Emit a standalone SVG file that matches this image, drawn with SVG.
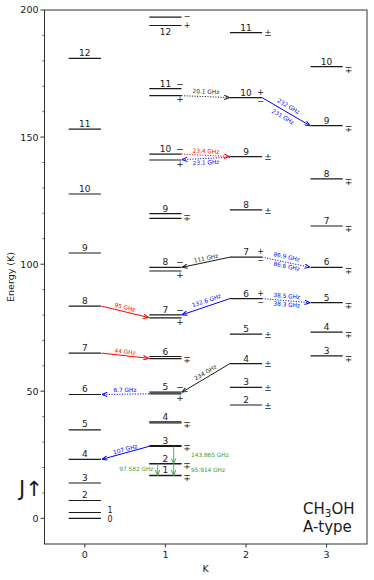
<svg xmlns="http://www.w3.org/2000/svg" width="374" height="580" viewBox="0 0 374 580">
<style>
text{font-family:"DejaVu Sans","Liberation Sans",sans-serif;fill:#1a1a1a}
.lv{stroke:#1a1a1a;stroke-width:1.2;fill:none}
.jl{font-size:9px;text-anchor:middle}
.sg{font-size:9px;text-anchor:middle}
.ss{font-size:8px;text-anchor:middle}
.tk{font-size:9.5px}
.al{font-size:5.8px;text-anchor:middle}
.ar{fill:none;stroke-width:1}
.dot{stroke-dasharray:1.1,1.5}
.bk{stroke:#1a1a1a}.rd{stroke:#ff0000}.bl{stroke:#0000ff}.gr{stroke:#5fae5f}
.tbk{fill:#1a1a1a}.trd{fill:#ff0000}.tbl{fill:#0000ff}.tgr{fill:#3a9a3a}
</style>
<defs>
<marker id="mbk" viewBox="0 0 6 5" refX="5.6" refY="2.5" markerWidth="6" markerHeight="5" markerUnits="userSpaceOnUse" orient="auto"><path d="M0.3,0.3 L5.6,2.5 L0.3,4.7" fill="none" stroke="#1a1a1a" stroke-width="1"/></marker>
<marker id="mrd" viewBox="0 0 6 5" refX="5.6" refY="2.5" markerWidth="6" markerHeight="5" markerUnits="userSpaceOnUse" orient="auto"><path d="M0.3,0.3 L5.6,2.5 L0.3,4.7" fill="none" stroke="#ff0000" stroke-width="1"/></marker>
<marker id="mbl" viewBox="0 0 6 5" refX="5.6" refY="2.5" markerWidth="6" markerHeight="5" markerUnits="userSpaceOnUse" orient="auto"><path d="M0.3,0.3 L5.6,2.5 L0.3,4.7" fill="none" stroke="#0000ff" stroke-width="1"/></marker>
<marker id="mgr" viewBox="0 0 6 5" refX="5.6" refY="2.5" markerWidth="6" markerHeight="5" markerUnits="userSpaceOnUse" orient="auto"><path d="M0.3,0.3 L5.6,2.5 L0.3,4.7" fill="none" stroke="#4aa34a" stroke-width="1"/></marker>
</defs>
<rect width="374" height="580" fill="#ffffff"/>

<g id="axes">
<rect x="44.5" y="10" width="322.5" height="534" fill="none" stroke="#333" stroke-width="1"/>
<path d="M40.5,518.3H44.5M40.5,391.2H44.5M40.5,264.2H44.5M40.5,137.1H44.5M40.5,10H44.5" stroke="#333" stroke-width="1"/>
<path d="M42.5,492.9H44.5M42.5,467.5H44.5M42.5,442.1H44.5M42.5,416.6H44.5M42.5,365.8H44.5M42.5,340.4H44.5M42.5,315H44.5M42.5,289.6H44.5M42.5,238.7H44.5M42.5,213.3H44.5M42.5,187.9H44.5M42.5,162.5H44.5M42.5,111.7H44.5M42.5,86.3H44.5M42.5,60.8H44.5M42.5,35.4H44.5" stroke="#333" stroke-width="0.8"/>
<path d="M84.8,544V547.5M165.4,544V547.5M246,544V547.5M326.6,544V547.5" stroke="#333" stroke-width="1"/>
<g class="tk" text-anchor="end">
<text x="38.5" y="521.7">0</text>
<text x="38.5" y="394.6">50</text>
<text x="38.5" y="267.6">100</text>
<text x="38.5" y="140.5">150</text>
<text x="38.5" y="13.4">200</text>
</g>
<g class="tk" text-anchor="middle">
<text x="84.8" y="558.2">0</text>
<text x="165.4" y="558.2">1</text>
<text x="246" y="558.2">2</text>
<text x="326.6" y="558.2">3</text>
<text x="205.7" y="571.8">K</text>
<text transform="translate(14.2,277) rotate(-90)">Energy (K)</text>
</g>
</g>

<g id="k0">
<g id="k0-j0"><line class="lv" x1="68.7" y1="518.3" x2="100.9" y2="518.3"/><text class="ss" x="110" y="522">0</text></g>
<g id="k0-j1"><line class="lv" x1="68.7" y1="512.5" x2="100.9" y2="512.5"/><text class="ss" x="110" y="512.9">1</text></g>
<g id="k0-j2"><line class="lv" x1="68.7" y1="500.5" x2="100.9" y2="500.5"/><text class="jl" x="84.8" y="498">2</text></g>
<g id="k0-j3"><line class="lv" x1="68.7" y1="483" x2="100.9" y2="483"/><text class="jl" x="84.8" y="480.5">3</text></g>
<g id="k0-j4"><line class="lv" x1="68.7" y1="459.3" x2="100.9" y2="459.3"/><text class="jl" x="84.8" y="456.8">4</text></g>
<g id="k0-j5"><line class="lv" x1="68.7" y1="429.9" x2="100.9" y2="429.9"/><text class="jl" x="84.8" y="427.4">5</text></g>
<g id="k0-j6"><line class="lv" x1="68.7" y1="394.5" x2="100.9" y2="394.5"/><text class="jl" x="84.8" y="392">6</text></g>
<g id="k0-j7"><line class="lv" x1="68.7" y1="353.1" x2="100.9" y2="353.1"/><text class="jl" x="84.8" y="350.6">7</text></g>
<g id="k0-j8"><line class="lv" x1="68.7" y1="306.1" x2="100.9" y2="306.1"/><text class="jl" x="84.8" y="303.6">8</text></g>
<g id="k0-j9"><line class="lv" x1="68.7" y1="253" x2="100.9" y2="253"/><text class="jl" x="84.8" y="250.5">9</text></g>
<g id="k0-j10"><line class="lv" x1="68.7" y1="194" x2="100.9" y2="194"/><text class="jl" x="84.8" y="191.5">10</text></g>
<g id="k0-j11"><line class="lv" x1="68.7" y1="129.2" x2="100.9" y2="129.2"/><text class="jl" x="84.8" y="126.7">11</text></g>
<g id="k0-j12"><line class="lv" x1="68.7" y1="58.3" x2="100.9" y2="58.3"/><text class="jl" x="84.8" y="55.8">12</text></g>
</g>

<g id="k1">
<g id="k1-j1"><line class="lv" x1="149.3" y1="475.6" x2="181.5" y2="475.6"/><line class="lv" x1="149.3" y1="475.4" x2="181.5" y2="475.4"/><text class="jl" x="165.4" y="473.4">1</text><text class="sg" x="187" y="480.7">∓</text></g>
<g id="k1-j2"><line class="lv" x1="149.3" y1="463.9" x2="181.5" y2="463.9"/><line class="lv" x1="149.3" y1="463.5" x2="181.5" y2="463.5"/><text class="jl" x="165.4" y="461.5">2</text><text class="sg" x="187" y="469">∓</text></g>
<g id="k1-j3"><line class="lv" x1="149.3" y1="446.4" x2="181.5" y2="446.4"/><line class="lv" x1="149.3" y1="445.7" x2="181.5" y2="445.7"/><text class="jl" x="165.4" y="443.7">3</text><text class="sg" x="187" y="451.3">∓</text></g>
<g id="k1-j4"><line class="lv" x1="149.3" y1="423" x2="181.5" y2="423"/><line class="lv" x1="149.3" y1="421.9" x2="181.5" y2="421.9"/><text class="jl" x="165.4" y="419.9">4</text><text class="sg" x="187" y="427.7">∓</text></g>
<g id="k1-j5"><line class="lv" x1="149.3" y1="393.8" x2="181.5" y2="393.8"/><line class="lv" x1="149.3" y1="392.2" x2="181.5" y2="392.2"/><text class="jl" x="165.4" y="390.2">5</text><text class="sg" x="180" y="390.4">−</text><text class="sg" x="180" y="400.6">+</text></g>
<g id="k1-j6"><line class="lv" x1="149.3" y1="358.7" x2="181.5" y2="358.7"/><line class="lv" x1="149.3" y1="356.5" x2="181.5" y2="356.5"/><text class="jl" x="165.4" y="354.5">6</text><text class="sg" x="187" y="362.8">∓</text></g>
<g id="k1-j7"><line class="lv" x1="149.3" y1="317.8" x2="181.5" y2="317.8"/><line class="lv" x1="149.3" y1="314.8" x2="181.5" y2="314.8"/><text class="jl" x="165.4" y="312.8">7</text><text class="sg" x="180" y="312.6">−</text><text class="sg" x="180" y="324.5">+</text></g>
<g id="k1-j8"><line class="lv" x1="149.3" y1="271" x2="181.5" y2="271"/><line class="lv" x1="149.3" y1="267.3" x2="181.5" y2="267.3"/><text class="jl" x="165.4" y="265.3">8</text><text class="sg" x="180" y="265.1">−</text><text class="sg" x="180" y="277.7">+</text></g>
<g id="k1-j9"><line class="lv" x1="149.3" y1="218.4" x2="181.5" y2="218.4"/><line class="lv" x1="149.3" y1="213.6" x2="181.5" y2="213.6"/><text class="jl" x="165.4" y="211.6">9</text><text class="sg" x="187" y="220.5">∓</text></g>
<g id="k1-j10"><line class="lv" x1="149.3" y1="160" x2="181.5" y2="160"/><line class="lv" x1="149.3" y1="154.1" x2="181.5" y2="154.1"/><text class="jl" x="165.4" y="152.1">10</text><text class="sg" x="180" y="152.1">−</text><text class="sg" x="180" y="166.5">+</text></g>
<g id="k1-j11"><line class="lv" x1="149.3" y1="95.7" x2="181.5" y2="95.7"/><line class="lv" x1="149.3" y1="88.7" x2="181.5" y2="88.7"/><text class="jl" x="165.4" y="86.7">11</text><text class="sg" x="180" y="86.7">−</text><text class="sg" x="180" y="102.2">+</text></g>
<g id="k1-j12"><line class="lv" x1="149.3" y1="25.5" x2="181.5" y2="25.5"/><line class="lv" x1="149.3" y1="17.2" x2="181.5" y2="17.2"/><text class="jl" x="165.4" y="35.3">12</text><text class="ss" x="187" y="18.6">−</text><text class="ss" x="187" y="28">+</text></g>
</g>

<g id="k2">
<g id="k2-j2"><line class="lv" x1="229.9" y1="405" x2="262.1" y2="405"/><text class="jl" x="246" y="403">2</text><text class="sg" x="268" y="408.6">±</text></g>
<g id="k2-j3"><line class="lv" x1="229.9" y1="387.3" x2="262.1" y2="387.3"/><text class="jl" x="246" y="385.3">3</text><text class="sg" x="268" y="390.9">±</text></g>
<g id="k2-j4"><line class="lv" x1="229.9" y1="363.6" x2="262.1" y2="363.6"/><text class="jl" x="246" y="361.6">4</text><text class="sg" x="268" y="367.2">±</text></g>
<g id="k2-j5"><line class="lv" x1="229.9" y1="334.1" x2="262.1" y2="334.1"/><text class="jl" x="246" y="332.1">5</text><text class="sg" x="268" y="337.7">±</text></g>
<g id="k2-j6"><line class="lv" x1="229.9" y1="298.6" x2="262.1" y2="298.6"/><text class="jl" x="246" y="296.6">6</text><text class="ss" x="260.5" y="295.6">+</text><text class="ss" x="260.5" y="304.8">−</text></g>
<g id="k2-j7"><line class="lv" x1="229.9" y1="257.2" x2="262.1" y2="257.2"/><text class="jl" x="246" y="255.2">7</text><text class="ss" x="260.5" y="254.2">+</text><text class="ss" x="260.5" y="263.4">−</text></g>
<g id="k2-j8"><line class="lv" x1="229.9" y1="209.9" x2="262.1" y2="209.9"/><text class="jl" x="246" y="207.9">8</text><text class="sg" x="268" y="213.5">±</text></g>
<g id="k2-j9"><line class="lv" x1="229.9" y1="156.7" x2="262.1" y2="156.7"/><text class="jl" x="246" y="154.7">9</text><text class="sg" x="268" y="160.3">±</text></g>
<g id="k2-j10"><line class="lv" x1="229.9" y1="97.6" x2="262.1" y2="97.6"/><text class="jl" x="246" y="95.6">10</text><text class="ss" x="260.5" y="94.6">+</text><text class="ss" x="260.5" y="103.8">−</text></g>
<g id="k2-j11"><line class="lv" x1="229.9" y1="32.6" x2="262.1" y2="32.6"/><text class="jl" x="246" y="30.6">11</text><text class="sg" x="268" y="36.2">±</text></g>
</g>

<g id="k3">
<g id="k3-j3"><line class="lv" x1="310.5" y1="355.8" x2="342.7" y2="355.8"/><text class="jl" x="326.6" y="353.8">3</text><text class="sg" x="348.5" y="362">∓</text></g>
<g id="k3-j4"><line class="lv" x1="310.5" y1="332.2" x2="342.7" y2="332.2"/><text class="jl" x="326.6" y="330.2">4</text><text class="sg" x="348.5" y="338.4">∓</text></g>
<g id="k3-j5"><line class="lv" x1="310.5" y1="302.7" x2="342.7" y2="302.7"/><text class="jl" x="326.6" y="300.7">5</text><text class="sg" x="348.5" y="308.9">∓</text></g>
<g id="k3-j6"><line class="lv" x1="310.5" y1="267.3" x2="342.7" y2="267.3"/><text class="jl" x="326.6" y="265.3">6</text><text class="sg" x="348.5" y="273.5">∓</text></g>
<g id="k3-j7"><line class="lv" x1="310.5" y1="226" x2="342.7" y2="226"/><text class="jl" x="326.6" y="224">7</text><text class="sg" x="348.5" y="232.2">∓</text></g>
<g id="k3-j8"><line class="lv" x1="310.5" y1="178.8" x2="342.7" y2="178.8"/><text class="jl" x="326.6" y="176.8">8</text><text class="sg" x="348.5" y="185">∓</text></g>
<g id="k3-j9"><line class="lv" x1="310.5" y1="125.7" x2="342.7" y2="125.7"/><text class="jl" x="326.6" y="123.7">9</text><text class="sg" x="348.5" y="131.9">∓</text></g>
<g id="k3-j10"><line class="lv" x1="310.5" y1="66.7" x2="342.7" y2="66.7"/><text class="jl" x="326.6" y="64.7">10</text><text class="sg" x="348.5" y="72.9">∓</text></g>
</g>

<g id="connectors">
<line class="ar rd" x1="101.5" y1="306.1" x2="148.5" y2="317.5" marker-end="url(#mrd)"/>
<line class="ar rd" x1="101.5" y1="353.1" x2="148.5" y2="358.3" marker-end="url(#mrd)"/>
<line class="ar bl dot" x1="149" y1="393.8" x2="102" y2="394.5" marker-end="url(#mbl)"/>
<line class="ar bl" x1="149" y1="446.4" x2="102" y2="459.3" marker-end="url(#mbl)"/>
<line class="ar bk" x1="229.9" y1="363.6" x2="182" y2="392.2" marker-end="url(#mbk)"/>
<line class="ar bl" x1="229.9" y1="298.6" x2="182" y2="314.8" marker-end="url(#mbl)"/>
<line class="ar bk" x1="229.9" y1="257.2" x2="182" y2="267.3" marker-end="url(#mbk)"/>
<line class="ar bl dot" x1="262.1" y1="257.2" x2="310" y2="267.3" marker-end="url(#mbl)"/>
<line class="ar bl dot" x1="262.1" y1="298.6" x2="310" y2="302.7" marker-end="url(#mbl)"/>
<line class="ar bl" x1="262.1" y1="97.6" x2="310" y2="125.7" marker-end="url(#mbl)"/>
<line class="ar rd dot" x1="181.5" y1="154.1" x2="229.5" y2="156.5" marker-end="url(#mrd)"/>
<line class="ar bl dot" x1="229.9" y1="157.3" x2="182" y2="159.6" marker-end="url(#mbl)"/>
<line class="ar bk dot" x1="181.5" y1="95.7" x2="229.5" y2="97.6" marker-end="url(#mbk)"/>
<line class="ar gr" x1="173.7" y1="446.4" x2="173.7" y2="463.6" marker-end="url(#mgr)"/>
<line class="ar gr" x1="173.7" y1="463.9" x2="173.7" y2="475.3" marker-end="url(#mgr)"/>
<line class="ar gr" x1="157.7" y1="463.6" x2="157.7" y2="475.3" marker-end="url(#mgr)"/>

<text class="al trd" transform="translate(125,307.3) rotate(13.6)" y="2">95 GHz</text>
<text class="al trd" transform="translate(125,351.7) rotate(6.6)" y="2">44 GHz</text>
<text class="al tbl" transform="translate(125,389.7)" y="2">6.7 GHz</text>
<text class="al tbl" transform="translate(125.3,449.3) rotate(-15.3)" y="2">107 GHz</text>
<text class="al tbk" transform="translate(205.5,372.5) rotate(-30.8)" y="2">234 GHz</text>
<text class="al tbl" transform="translate(206.5,300.6) rotate(-18.7)" y="2">132.6 GHz</text>
<text class="al tbk" transform="translate(206,258.3) rotate(-11.9)" y="2">111 GHz</text>
<text class="al tbl" transform="translate(286.7,256.9) rotate(11.9)" y="2">86.9 GHz</text>
<text class="al tbl" transform="translate(286.7,266.4) rotate(11.9)" y="2">86.6 GHz</text>
<text class="al tbl" transform="translate(286.7,296.1) rotate(4.9)" y="2">38.5 GHz</text>
<text class="al tbl" transform="translate(286.7,304.6) rotate(4.9)" y="2">38.3 GHz</text>
<text class="al tbl" transform="translate(288.5,106.3) rotate(30.4)" y="2">232 GHz</text>
<text class="al tbl" transform="translate(283,116.8) rotate(30.4)" y="2">231 GHz</text>
<text class="al trd" transform="translate(206,151.3) rotate(2.8)" y="2">23.4 GHz</text>
<text class="al tbl" transform="translate(206,162.6) rotate(-2.8)" y="2">23.1 GHz</text>
<text class="al tbk" transform="translate(206,91.6) rotate(2.2)" y="2">20.1 GHz</text>
<text class="al tgr" x="136.3" y="471.4">97.582 GHz</text>
<text class="al tgr" x="191" y="456.8" style="text-anchor:start">143.865 GHz</text>
<text class="al tgr" x="191" y="471.8" style="text-anchor:start">95.914 GHz</text>
</g>

<g id="annotations">
<text x="19" y="495.5" font-size="21">J↑</text>
<text x="303" y="514" font-size="15">CH<tspan font-size="10.5" dy="3">3</tspan><tspan dy="-3">OH</tspan></text>
<text x="303" y="532" font-size="15">A-type</text>
</g>
</svg>
